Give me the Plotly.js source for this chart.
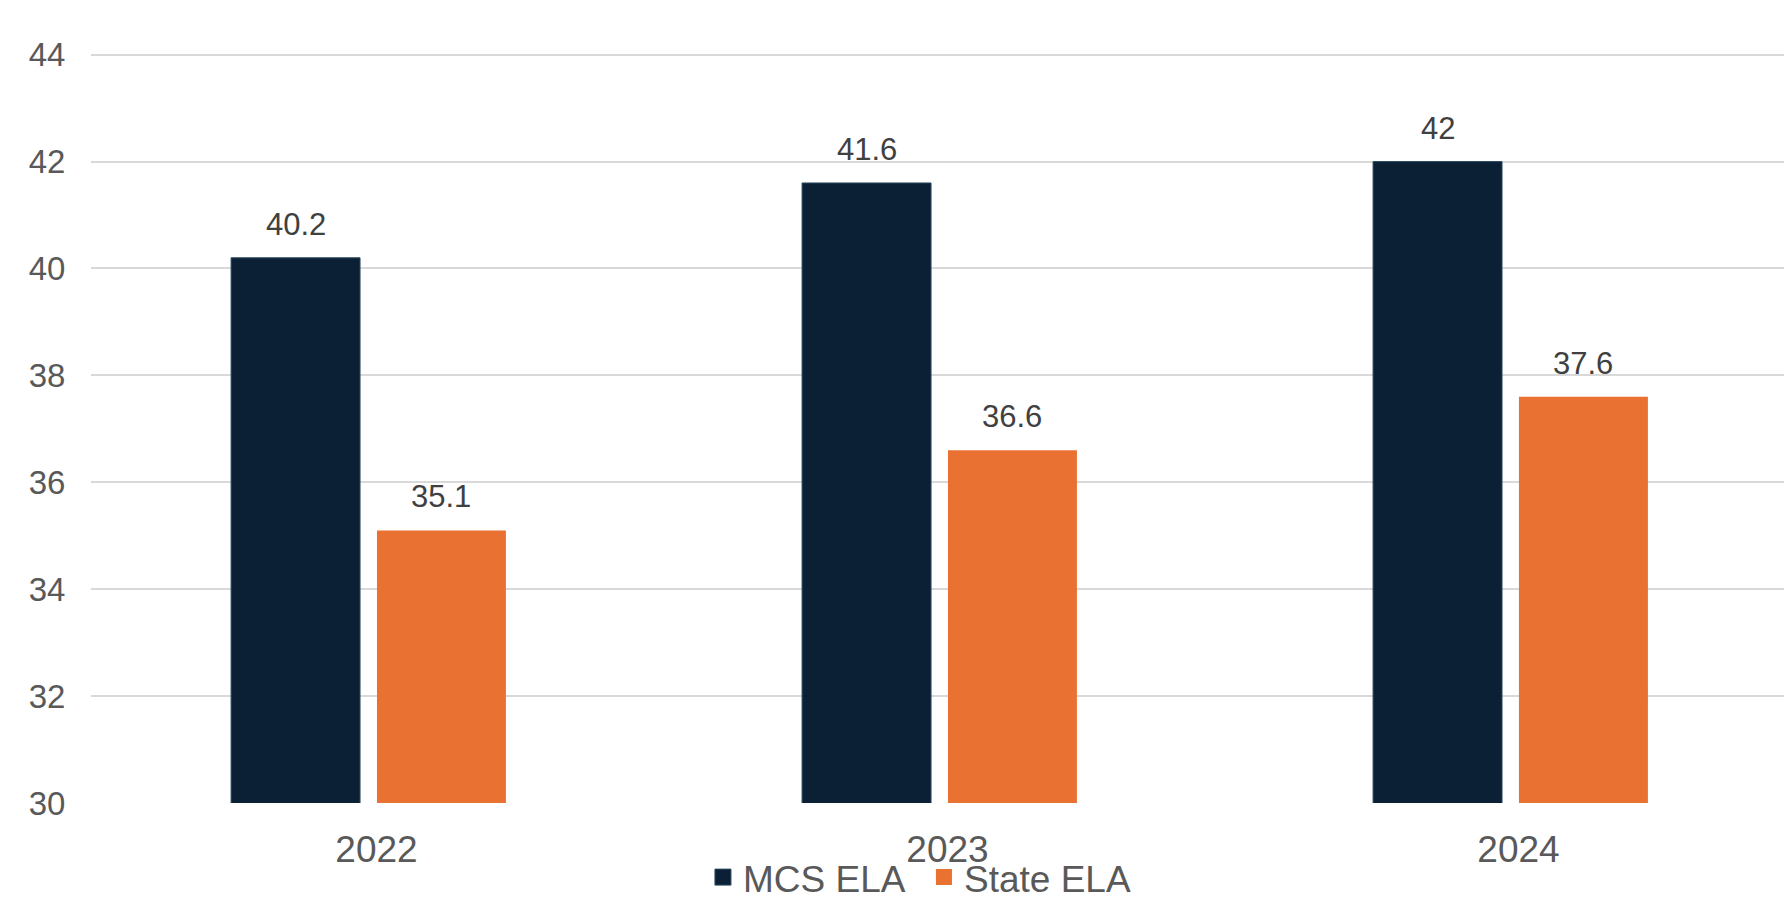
<!DOCTYPE html>
<html>
<head>
<meta charset="utf-8">
<script src="https://cdn.plot.ly/plotly-3.0.1.min.js"></script>
<style>html,body{margin:0;padding:0;background:#fff;}#chart{width:1784px;height:901px;}</style>
</head>
<body>
<div id="chart"></div>
<script>
const years = ['2022', '2023', '2024'];
const mcsEla = [40.2, 41.6, 42];
const stateEla = [35.1, 36.6, 37.6];
const seriesNames = ['MCS ELA', 'State ELA'];
const yTicks = [30, 32, 34, 36, 38, 40, 42, 44];

const FONT = 'Liberation Sans, Arial, sans-serif';
const COLORS = ['#0B2034', '#E97233'];
const bargap = 0.489;
const half = (1 - bargap) / 4;

const traces = [
  {type: 'bar', name: seriesNames[0], x: years, y: mcsEla, showlegend: false,
   marker: {color: COLORS[0], line: {color: '#2C4A60', width: 1}}},
  {type: 'bar', name: seriesNames[1], x: years, y: stateEla, showlegend: false,
   marker: {color: COLORS[1], line: {width: 0}}},
  // legend entries (no data points)
  {type: 'scatter', mode: 'markers', name: seriesNames[0], x: [null], y: [null],
   marker: {symbol: 'square', size: 16, color: COLORS[0], line: {color: '#2C4A60', width: 1}}},
  {type: 'scatter', mode: 'markers', name: seriesNames[1], x: [null], y: [null],
   marker: {symbol: 'square', size: 16, color: COLORS[1], line: {width: 0}}}
];

const annotations = [];
[mcsEla, stateEla].forEach((vals, s) => {
  vals.forEach((v, i) => {
    annotations.push({
      xref: 'x', yref: 'y', x: i + (s === 0 ? -half : half), y: v,
      text: String(v), showarrow: false, yanchor: 'bottom', yshift: 14,
      font: {family: FONT, size: 31, color: '#404040'}
    });
  });
});

const layout = {
  width: 1784, height: 901,
  margin: {l: 91, r: 0, t: 52, b: 98},
  paper_bgcolor: '#ffffff', plot_bgcolor: '#ffffff',
  barmode: 'group', bargap: bargap, bargroupgap: 0.116,
  font: {family: FONT, color: '#595959'},
  xaxis: {type: 'category', categoryorder: 'array', categoryarray: years,
          range: [-0.486, 2.479], ticklabelshift: 8,
          tickfont: {family: FONT, size: 37, color: '#595959'},
          showgrid: false, showline: false, zeroline: false,
          ticks: 'outside', ticklen: 14, tickcolor: 'rgba(0,0,0,0)'},
  yaxis: {range: [30, 44.05], tickvals: yTicks, ticktext: yTicks.map(String),
          tickfont: {family: FONT, size: 33, color: '#595959'},
          showgrid: true, gridcolor: '#D9D9D9', gridwidth: 2, zeroline: false,
          showline: false, ticks: 'outside', ticklen: 18, tickcolor: 'rgba(0,0,0,0)'},
  showlegend: true,
  legend: {orientation: 'h', x: 0.492, xanchor: 'center', yref: 'container', y: 0.026, yanchor: 'middle',
           font: {family: FONT, size: 37, color: '#595959'}, itemwidth: 30, entrywidth: 176,
           bgcolor: 'rgba(0,0,0,0)'},
  annotations: annotations
};

Plotly.newPlot('chart', traces, layout, {displayModeBar: false, staticPlot: true});
</script>
</body>
</html>
